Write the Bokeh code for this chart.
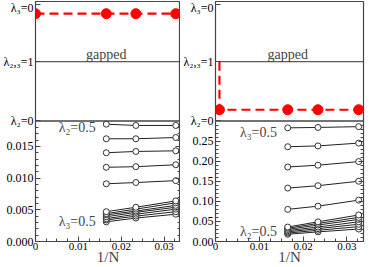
from bokeh.plotting import figure
from bokeh.models import Range1d, LinearAxis, FixedTicker, Label, Span
from bokeh.layouts import row
from bokeh.embed import file_html
from bokeh.resources import INLINE

# ---------------- data ----------------
X_N = [0.0165, 0.0234, 0.0327]          # 1/N values
X_END = 0.0338
X_TICKS = [0.0, 0.01, 0.02, 0.03]
X_TICK_LABELS = ["0", "0.01", "0.02", "0.03"]
X_MINOR = [0.0, 0.0025, 0.005, 0.0075, 0.01, 0.0125, 0.015, 0.0175, 0.02,
           0.0225, 0.025, 0.0275, 0.03, 0.0325]

# left panel
LEFT_TOP = 0.019
LEFT_YTICKS = [0.0, 0.005, 0.010, 0.015]
LEFT_YTICK_LABELS = ["0.000", "0.005", "0.010", "0.015"]
LEFT_YMINOR = [0.001, 0.002, 0.003, 0.004, 0.006, 0.007, 0.008, 0.009, 0.011,
               0.012, 0.013, 0.014, 0.016, 0.017, 0.018]
LEFT_SEP = [
    [0.0091, 0.0093, 0.0096],
    [0.0117, 0.0118, 0.0121],
    [0.0140, 0.0142, 0.0143],
    [0.0162, 0.0162, 0.0164],
    [0.0185, 0.0183, 0.0183],
]
LEFT_CLUSTER = [
    [0.0031, 0.0037, 0.0043],
    [0.0034, 0.0040, 0.0047],
    [0.0036, 0.0043, 0.0051],
    [0.0039, 0.0046, 0.0054],
    [0.0042, 0.0048, 0.0057],
    [0.0044, 0.0051, 0.0061],
    [0.0047, 0.0054, 0.0064],
]
LEFT_RED_X = [0.0] + X_N
LEFT_RED_Y = 1.81
LEFT_TXT = [("λ₂=0.5", 0.0145, 0.01805), ("λ₃=0.5", 0.0145, 0.0032)]

# right panel
RIGHT_TOP = 0.30
RIGHT_YTICKS = [0.0, 0.05, 0.10, 0.15, 0.20, 0.25]
RIGHT_YTICK_LABELS = ["0.00", "0.05", "0.10", "0.15", "0.20", "0.25"]
RIGHT_YMINOR = [0.01, 0.02, 0.03, 0.04, 0.06, 0.07, 0.08, 0.09, 0.11, 0.12,
                0.13, 0.14, 0.16, 0.17, 0.18, 0.19, 0.21, 0.22, 0.23, 0.24,
                0.26, 0.27, 0.28, 0.29]
RIGHT_SEP = [
    [0.080, 0.088, 0.103],
    [0.133, 0.139, 0.150],
    [0.1855, 0.190, 0.199],
    [0.236, 0.238, 0.245],
    [0.283, 0.284, 0.286],
]
RIGHT_CLUSTER = [
    [0.018, 0.024, 0.031],
    [0.021, 0.028, 0.037],
    [0.024, 0.032, 0.043],
    [0.027, 0.036, 0.049],
    [0.030, 0.041, 0.055],
    [0.033, 0.045, 0.060],
    [0.036, 0.049, 0.066],
]
RIGHT_RED_X0 = 0.0009
RIGHT_RED_X = [RIGHT_RED_X0] + X_N
RIGHT_RED_Y = 0.19
RIGHT_TXT = [("λ₃=0.5", 0.0145, 0.2725), ("λ₂=0.5", 0.0145, 0.025)]

# schematic upper part: levels and their labels on the left axis
SCH_LO, SCH_HI = -2.033, 2.016
LOW_FRAC = 0.502
SCH_LEVELS = [0.0, 1.0, 1.964]
SCH_LABELS = ["λ₂=0", "λ₂,₃=1", "λ₃=0"]
GAPPED_X = 0.0165

FONT = "Liberation Serif"
GRAY = "#444444"


def make_panel(width, border_left, border_right, top, yticks, ylabels, yminor,
               series, red_x, red_y, red_vertical, gap_line_start, texts):
    y_end = top / LOW_FRAC
    p = figure(width=width, height=267, output_backend="svg", toolbar_location=None,
               x_range=Range1d(0, X_END), y_range=Range1d(0, y_end),
               min_border_left=border_left, min_border_right=border_right,
               min_border_top=1, min_border_bottom=0)
    p.extra_y_ranges = {"sch": Range1d(SCH_LO, SCH_HI)}
    p.grid.visible = False
    p.outline_line_color = GRAY
    p.outline_line_width = 1.2

    # the schematic levels expressed on the main y scale, for the left labels
    sch_on_main = [(v - SCH_LO) / (SCH_HI - SCH_LO) * y_end for v in SCH_LEVELS]
    overrides = {t: s for t, s in zip(yticks, ylabels)}
    overrides.update({t: s for t, s in zip(sch_on_main, SCH_LABELS)})

    p.xaxis.ticker = FixedTicker(ticks=X_TICKS, minor_ticks=X_MINOR)
    p.xaxis.major_label_overrides = {t: s for t, s in zip(X_TICKS, X_TICK_LABELS)}
    p.yaxis.ticker = FixedTicker(ticks=yticks + sch_on_main, minor_ticks=yminor)
    p.yaxis.major_label_overrides = overrides
    for ax in (p.xaxis[0], p.yaxis[0]):
        ax.axis_line_color = None
        ax.major_tick_in = 5
        ax.major_tick_out = 0
        ax.minor_tick_in = 3
        ax.minor_tick_out = 0
        ax.major_tick_line_color = GRAY
        ax.minor_tick_line_color = GRAY
        ax.major_label_text_font = FONT
        ax.major_label_text_color = "black"
        ax.major_label_standoff = 2
    p.yaxis.major_label_text_font_size = "12px"
    p.xaxis.major_label_text_font_size = "11px"
    p.xaxis.axis_label = "1/N"
    p.xaxis.axis_label_text_font = FONT
    p.xaxis.axis_label_text_font_size = "15px"
    p.xaxis.axis_label_text_font_style = "normal"
    p.xaxis.axis_label_standoff = -4
    p.xaxis.major_label_standoff = 1

    rax = LinearAxis(ticker=FixedTicker(ticks=yticks, minor_ticks=yminor),
                     major_label_overrides={t: "" for t in yticks},
                     major_label_standoff=0,
                     axis_line_color=None, major_tick_in=5, major_tick_out=0,
                     minor_tick_in=3, minor_tick_out=0,
                     major_tick_line_color=GRAY, minor_tick_line_color=GRAY)
    p.add_layout(rax, "right")

    # lower data
    for ys in series:
        p.line(X_N, ys, line_color="#222222", line_width=1)
        p.scatter(X_N, ys, size=6, marker="circle", line_color="#333333",
                  fill_color="white", line_width=1)
    for txt, x, y in texts:
        p.add_layout(Label(x=x, y=y, text=txt, text_align="right",
                           text_baseline="middle", text_font=FONT,
                           text_font_size="14px", x_offset=-2))

    # schematic upper part
    p.add_layout(Span(location=0, dimension="width", y_range_name="sch",
                      line_color=GRAY, line_width=1.5))
    p.line([gap_line_start, X_END], [1, 1], y_range_name="sch",
           line_color="#333333", line_width=1)
    p.add_layout(Label(x=GAPPED_X, y=1, y_range_name="sch", text="gapped",
                       text_align="center", text_baseline="bottom",
                       text_font=FONT, text_font_size="14px"))
    if red_vertical:
        lx = [red_x[0]] + red_x
        ly = [1] + [red_y] * len(red_x)
    else:
        lx = red_x
        ly = [red_y] * len(red_x)
    p.line(lx, ly, y_range_name="sch", line_color="red", line_width=2.2,
           line_dash="9 5")
    p.scatter(red_x, [red_y] * len(red_x), y_range_name="sch", size=10,
              marker="circle", line_color="red", fill_color="red")
    return p


left = make_panel(180, 31, 0, LEFT_TOP, LEFT_YTICKS, LEFT_YTICK_LABELS, LEFT_YMINOR,
                  LEFT_SEP + LEFT_CLUSTER, LEFT_RED_X, LEFT_RED_Y, False, 0.0,
                  LEFT_TXT)
right = make_panel(186, 32, 3, RIGHT_TOP, RIGHT_YTICKS, RIGHT_YTICK_LABELS, RIGHT_YMINOR,
                   RIGHT_SEP + RIGHT_CLUSTER, RIGHT_RED_X, RIGHT_RED_Y, True,
                   RIGHT_RED_X0, RIGHT_TXT)

layout = row(left, right, spacing=0)
open("out.html", "w").write(file_html(layout, INLINE))
